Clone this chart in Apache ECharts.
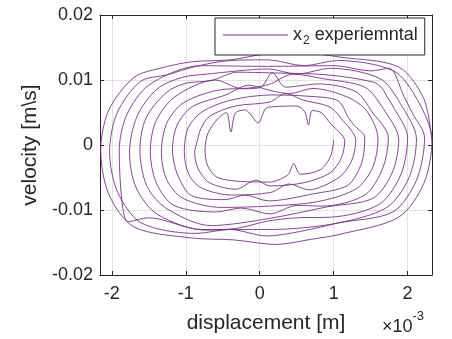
<!DOCTYPE html>
<html>
<head>
<meta charset="utf-8">
<script src="https://cdn.jsdelivr.net/npm/echarts@6/dist/echarts.min.js"></script>
<style>html,body{margin:0;padding:0;background:#fff}#c{width:452px;height:339px}</style>
</head>
<body>
<div id="c"></div>
<script>
// Each cycle: [displacement (x1e-3 m), velocity (m/s)] points
var cycle01 = [[1.00,0.0008],[0.96,-0.0017],[0.82,-0.0038],[0.55,-0.0045],[0.46,-0.0029],[0.38,-0.0046],[0.13,-0.0057],[-0.26,-0.0056],[-0.57,-0.0050],[-0.70,-0.0033],[-0.74,-0.0008],[-0.70,0.0018],[-0.57,0.0040],[-0.45,0.0050],[-0.39,0.0020],[-0.33,0.0049],[-0.20,0.0054],[-0.02,0.0034],[0.08,0.0056],[0.20,0.0059],[0.50,0.0060],[0.61,0.0051],[0.66,0.0031],[0.71,0.0053],[0.83,0.0050],[0.95,0.0034]];
var cycle02 = [[1.15,0.0006],[1.10,-0.0021],[0.95,-0.0043],[0.60,-0.0058],[0.14,-0.0063],[-0.05,-0.0054],[-0.32,-0.0068],[-0.68,-0.0058],[-0.83,-0.0037],[-0.88,-0.0012],[-0.84,0.0008],[-0.80,0.0024],[-0.68,0.0044],[-0.33,0.0060],[0.13,0.0066],[0.35,0.0079],[0.59,0.0069],[0.94,0.0059],[1.10,0.0041]];
var cycle03 = [[1.30,0.0007],[1.24,-0.0025],[1.07,-0.0050],[0.66,-0.0069],[0.40,-0.0060],[0.15,-0.0073],[-0.38,-0.0077],[-0.79,-0.0066],[-0.96,-0.0045],[-1.02,-0.0010],[-0.97,0.0026],[-0.78,0.0051],[-0.39,0.0069],[0.15,0.0077],[0.66,0.0075],[1.06,0.0068],[1.20,0.0042],[1.28,0.0030]];
var cycle04 = [[1.42,0.0012],[1.38,-0.0027],[1.19,-0.0062],[0.73,-0.0075],[0.12,-0.0086],[-0.20,-0.0077],[-0.46,-0.0084],[-0.92,-0.0078],[-1.11,-0.0046],[-1.18,-0.0008],[-1.12,0.0030],[-0.91,0.0059],[-0.46,0.0077],[-0.15,0.0092],[0.14,0.0084],[0.40,0.0079],[0.72,0.0087],[1.18,0.0074],[1.45,0.0052]];
var cycle05 = [[1.60,0.0009],[1.53,-0.0034],[1.31,-0.0067],[0.79,-0.0087],[0.13,-0.0094],[-0.52,-0.0096],[-1.04,-0.0082],[-1.26,-0.0053],[-1.33,-0.0011],[-1.26,0.0033],[-1.03,0.0065],[-0.53,0.0085],[0.00,0.0088],[0.17,0.0111],[0.35,0.0089],[0.80,0.0094],[1.30,0.0082],[1.52,0.0051]];
var cycle06 = [[1.74,0.0011],[1.66,-0.0037],[1.42,-0.0077],[0.85,-0.0094],[0.50,-0.0093],[0.14,-0.0106],[-0.25,-0.0097],[-0.59,-0.0103],[-1.16,-0.0093],[-1.40,-0.0058],[-1.48,-0.0010],[-1.41,0.0035],[-1.15,0.0074],[-0.60,0.0100],[-0.25,0.0087],[0.12,0.0093],[0.45,0.0109],[0.86,0.0102],[1.42,0.0089],[1.67,0.0056]];
var cycle07 = [[1.88,0.0008],[1.79,-0.0043],[1.53,-0.0082],[0.92,-0.0095],[0.13,-0.0113],[-0.66,-0.0124],[-1.27,-0.0097],[-1.53,-0.0062],[-1.62,-0.0008],[-1.54,0.0041],[-1.26,0.0081],[-1.00,0.0095],[-0.66,0.0099],[-0.30,0.0112],[0.14,0.0111],[0.91,0.0108],[1.53,0.0097],[1.65,0.0088],[1.72,0.0075],[1.80,0.0060]];
var cycle08 = [[2.00,0.0012],[1.91,-0.0045],[1.62,-0.0091],[0.97,-0.0111],[0.50,-0.0112],[0.11,-0.0117],[-0.30,-0.0128],[-0.73,-0.0131],[-1.38,-0.0107],[-1.67,-0.0066],[-1.76,-0.0012],[-1.66,0.0044],[-1.39,0.0086],[-1.05,0.0104],[-0.72,0.0109],[0.12,0.0117],[0.50,0.0109],[0.96,0.0118],[1.63,0.0102],[1.90,0.0064]];
var cycle09 = [[2.12,0.0009],[2.02,-0.0050],[1.72,-0.0096],[1.01,-0.0121],[0.12,-0.0130],[-0.79,-0.0130],[-1.50,-0.0112],[-1.78,-0.0118],[-1.86,-0.0090],[-1.90,-0.0009],[-1.80,0.0046],[-1.49,0.0093],[-0.80,0.0122],[0.10,0.0121],[1.02,0.0122],[1.50,0.0114],[1.75,0.0118],[1.95,0.0075],[2.06,0.0050]];
var cycle10 = [[2.23,0.0011],[2.12,-0.0054],[1.80,-0.0103],[1.06,-0.0120],[0.55,-0.0133],[0.10,-0.0140],[-0.40,-0.0130],[-0.86,-0.0136],[-1.60,-0.0120],[-1.92,-0.0073],[-2.03,-0.0011],[-1.93,0.0049],[-1.61,0.0098],[-1.25,0.0108],[-0.86,0.0121],[-0.40,0.0130],[0.11,0.0131],[0.60,0.0122],[1.05,0.0130],[1.81,0.0114],[2.13,0.0070]];
var cycle11 = [[2.33,0.0008],[2.22,-0.0059],[1.88,-0.0111],[1.10,-0.0137],[0.70,-0.0145],[0.22,-0.0153],[-0.35,-0.0146],[-0.92,-0.0143],[-1.70,-0.0126],[-2.04,-0.0076],[-2.15,-0.0008],[-2.04,0.0054],[-1.70,0.0104],[-1.35,0.0118],[-0.92,0.0128],[-0.40,0.0131],[0.08,0.0140],[0.55,0.0142],[1.10,0.0135],[1.88,0.0120],[2.22,0.0071],[2.33,0.0006]];
var xTicks = [-2, -1, 0, 1, 2];
var yTicks = [-0.02, -0.01, 0, 0.01, 0.02];
var seriesName = 'x2 experiemntal';

var pts = [].concat(cycle01, cycle02, cycle03, cycle04, cycle05, cycle06, cycle07, cycle08, cycle09, cycle10, cycle11);

var ink = '#262626', gridC = '#e3e3e3', purple = '#7E2F8E';
var font = 'Liberation Sans, Arial, Helvetica, sans-serif';
var chart = echarts.init(document.getElementById('c'), null, {renderer: 'canvas'});
var xBase = {
  type: 'value', min: -2.16, max: 2.33,
  axisLine: {show: true, onZero: false, lineStyle: {color: ink, width: 1}},
  axisTick: {show: true, inside: true, length: 4, customValues: xTicks, lineStyle: {color: ink}},
  splitLine: {show: false}
};
var yBase = {
  type: 'value', min: yTicks[0], max: yTicks[yTicks.length - 1], interval: 0.01,
  axisLine: {show: true, onZero: false, lineStyle: {color: ink, width: 1}},
  axisTick: {show: true, inside: true, length: 4, lineStyle: {color: ink}},
  splitLine: {show: false}
};
chart.setOption({
  animation: false,
  grid: {left: 100, right: 20, top: 15, bottom: 63, containLabel: false},
  xAxis: [
    Object.assign({}, xBase, {
      position: 'bottom',
      axisLabel: {show: true, customValues: xTicks, color: ink, fontSize: 18, fontFamily: font, margin: 10,
        formatter: function (v) { return String(v); }},
      splitLine: {show: true, lineStyle: {color: gridC, width: 1}},
      name: 'displacement [m]', nameLocation: 'middle', nameGap: 38,
      nameTextStyle: {color: ink, fontSize: 21, fontFamily: font}
    }),
    Object.assign({}, xBase, {position: 'top', axisLabel: {show: false}})
  ],
  yAxis: [
    Object.assign({}, yBase, {
      position: 'left',
      axisLabel: {show: true, color: ink, fontSize: 18, fontFamily: font, margin: 7,
        formatter: function (v) { return String(Math.round(v * 100) / 100); }},
      splitLine: {show: true, lineStyle: {color: gridC, width: 1}},
      name: 'velocity [m\\s]', nameLocation: 'middle', nameGap: 58, nameRotate: 90,
      nameTextStyle: {color: ink, fontSize: 21, fontFamily: font}
    }),
    Object.assign({}, yBase, {position: 'right', axisLabel: {show: false}})
  ],
  legend: {
    show: true, left: 215, top: 18, orient: 'horizontal',
    backgroundColor: '#fff', borderColor: ink, borderWidth: 1, borderRadius: 0,
    padding: [8, 7, 8, 8], itemWidth: 65, itemHeight: 1.2, itemGap: 5,
    icon: 'rect',
    data: [seriesName],
    formatter: function () { return '{a|x}{b|2}{a| experiemntal}'; },
    textStyle: {color: ink, fontFamily: font, fontSize: 18,
      rich: {a: {fontSize: 18, fontFamily: font, color: ink, verticalAlign: 'middle'},
             b: {fontSize: 12, fontFamily: font, color: ink, padding: [12, 0, 0, 1]}}}
  },
  graphic: [{
    type: 'text', left: 382, top: 310,
    style: {
      text: '{a|\u00d710}{b|-3}',
      rich: {a: {fontSize: 18, fontFamily: font, fill: ink, padding: [11, 0, 0, 0]},
             b: {fontSize: 13, fontFamily: font, fill: ink, padding: [0, 0, 10, 0]}}
    }
  }],
  series: [{
    name: seriesName, type: 'line', data: pts, xAxisIndex: 0, yAxisIndex: 0,
    symbol: 'none', showSymbol: false, smooth: 0.3,
    lineStyle: {color: purple, width: 1, opacity: 0.9},
    itemStyle: {color: purple}
  }]
});
</script>
</body>
</html>
